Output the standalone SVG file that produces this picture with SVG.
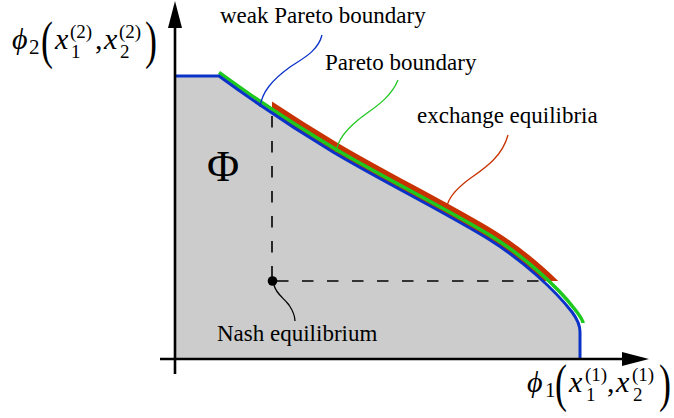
<svg xmlns="http://www.w3.org/2000/svg" width="674" height="418" viewBox="0 0 674 418">
<style>
text{font-family:'Liberation Serif','DejaVu Serif',serif;fill:#000}
.lbl{font-size:23px}
.mi{font-style:italic;font-size:30px}
.mr{font-size:30px}
.sc{font-size:19px}
.sb{font-size:21px}
.par{font-size:36px}
.dash{fill:none;stroke:#000;stroke-width:1.6;stroke-dasharray:11.5 13.5}
.call{fill:none;stroke-width:1.3}
</style>
<defs>
<clipPath id="exclip"><rect x="272" y="0" width="400" height="281"/></clipPath>
</defs>
<g id="exchange-band" clip-path="url(#exclip)">
<path d="M219,72.5 C245,91.5 281,116.5 334.5,148.5 C381.5,176.5 451.5,211.5 492,236.5 C524,256.5 557.5,286.5 575,309.5 C580.5,316.5 583,320.5 583,323" fill="none" stroke="#c83200" stroke-width="13"/>
</g>
<g id="region">
<path d="M175,76 L219,76 C245,95 280,120 333,152 C380,180 450,215 490,240 C522,260 555,290 572,312 C578,320 580,325 580,332 L580,359 L175,359 Z" fill="#cccccc"/>
</g>
<g id="pareto">
<path d="M219,72.5 C245,91.5 281,116.5 334.5,148.5 C381.5,176.5 451.5,211.5 492,236.5 C524,256.5 557.5,286.5 575,309.5 C580.5,316.5 583,320.5 583,323" fill="none" stroke="#1ec81e" stroke-width="3.5"/>
</g>
<g id="weak-pareto">
<path d="M175,76 L219,76 C245,95 280,120 333,152 C380,180 450,215 490,240 C522,260 555,290 572,312 C578,320 580,325 580,332 L580,359" fill="none" stroke="#0a32c8" stroke-width="3"/>
</g>
<g id="nash-lines">
<path class="dash" d="M272,116 L272,281"/>
<path class="dash" d="M277,281 L543,281"/>
<circle cx="272.5" cy="281" r="4.8" fill="#000"/>
</g>
<g id="connectors">
<path class="call" stroke="#0a32c8" d="M322,35 C318,52 300,60 290,67 C272,80 262,92 260,107"/>
<path class="call" stroke="#1ec81e" d="M398,80 C390,100 370,110 358,120 C345,131 338,140 336,152"/>
<path class="call" stroke="#c83200" d="M508,135 C502,158 482,170 468,180 C455,190 448,198 447,207"/>
<path class="call" stroke="#000" d="M274,285 C276,294 284,298 289,305 C293,311 295,316 295,321"/>
</g>
<g id="labels">
<text class="lbl" x="220" y="23" font-family="Liberation Serif">weak Pareto boundary</text>
<text class="lbl" x="325" y="70" font-family="Liberation Serif">Pareto boundary</text>
<text class="lbl" x="417" y="123" font-family="Liberation Serif">exchange equilibria</text>
<text class="lbl" x="217" y="341" font-family="Liberation Serif">Nash equilibrium</text>
<text x="207" y="181" style="font-size:44px">Φ</text>
</g>
<g id="y-label">
<text class="mi" x="12" y="49">ϕ</text>
<text class="sb" x="29" y="54">2</text>
<text class="par" transform="translate(41,58) scale(1,1.45)">(</text>
<text class="mi" x="55" y="49">x</text>
<text class="sc" x="70" y="38">(2)</text>
<text class="sc" x="71" y="58">1</text>
<text class="mr" x="95" y="49">,</text>
<text class="mi" x="104" y="49">x</text>
<text class="sc" x="119" y="38">(2)</text>
<text class="sc" x="120" y="58">2</text>
<text class="par" transform="translate(145,58) scale(1,1.45)">)</text>
</g>
<g id="x-label">
<text class="mi" x="527" y="392">ϕ</text>
<text class="sb" x="545" y="397">1</text>
<text class="par" transform="translate(555,401) scale(1,1.45)">(</text>
<text class="mi" x="569" y="392">x</text>
<text class="sc" x="585" y="381">(1)</text>
<text class="sc" x="586" y="401">1</text>
<text class="mr" x="607" y="392">,</text>
<text class="mi" x="616" y="392">x</text>
<text class="sc" x="632" y="381">(1)</text>
<text class="sc" x="633" y="401">2</text>
<text class="par" transform="translate(659,401) scale(1,1.45)">)</text>
</g>
<g id="axes">
<line x1="175" y1="374" x2="175" y2="26" stroke="#000" stroke-width="2.6"/>
<polygon points="175,1 168,28 182,28" fill="#000"/>
<line x1="160" y1="359" x2="624" y2="359" stroke="#000" stroke-width="2.6"/>
<polygon points="649,359 622,352 622,366" fill="#000"/>
</g>
</svg>
